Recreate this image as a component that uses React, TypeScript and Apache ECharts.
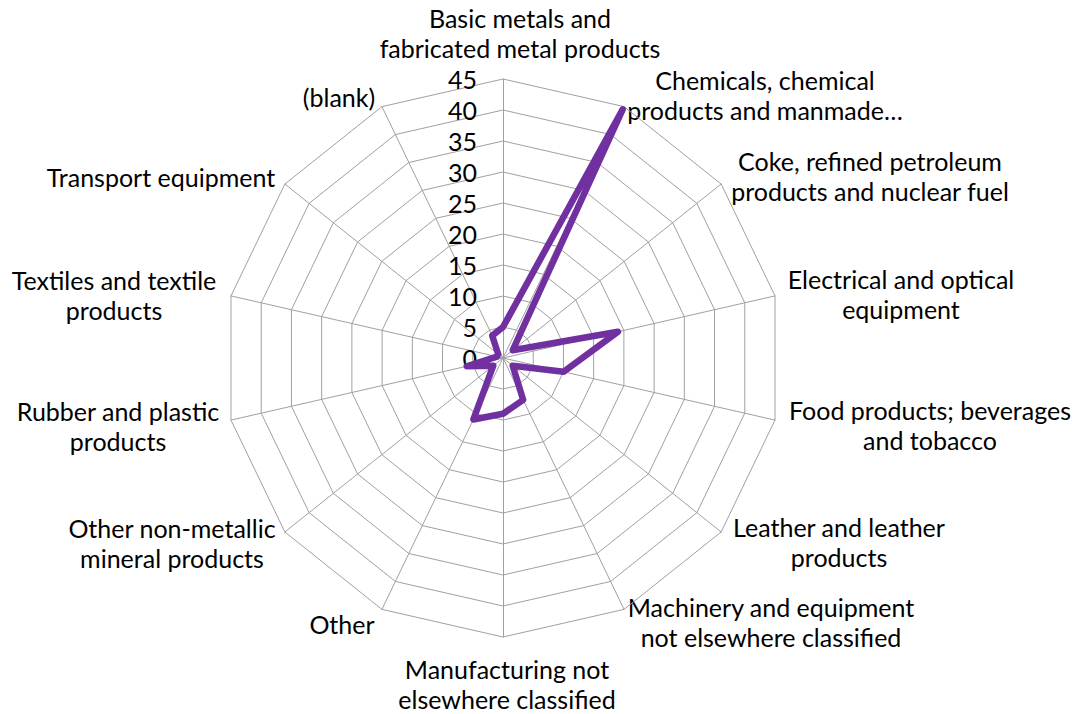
import React, { useEffect, useRef } from "react";
import * as echarts from "echarts";

// Categories in clockwise order starting at the top
const categories: string[] = [
  "Basic metals and\nfabricated metal products",
  "Chemicals, chemical\nproducts and manmade…",
  "Coke, refined petroleum\nproducts and nuclear fuel",
  "Electrical and optical\nequipment",
  "Food products; beverages\nand tobacco",
  "Leather and leather\nproducts",
  "Machinery and equipment\nnot elsewhere classified",
  "Manufacturing not\nelsewhere classified",
  "Other",
  "Other non-metallic\nmineral products",
  "Rubber and plastic\nproducts",
  "Textiles and textile\nproducts",
  "Transport equipment",
  "(blank)",
];

const values: number[] = [5, 44.5, 2, 19, 10, 2, 7.5, 9, 11, 2, 6, 1, 1, 4];

const axisMin = 0;
const axisMax = 45;
const axisStep = 5;

// label block centres (layout only)
const labelLayout: [number, number][] = [
  [520, 33],
  [765, 95],
  [870, 176],
  [901, 294],
  [930, 425],
  [839, 542],
  [771, 622],
  [507, 684],
  [342, 624],
  [172, 543],
  [118, 426],
  [114, 295],
  [161, 177],
  [339, 97],
];

const CX = 503;
const CY = 358;
const R = 279;
const FONT = "Lato, 'Open Sans', sans-serif";
const FS = 25;

export default function App() {
  const ref = useRef<HTMLDivElement>(null);
  useEffect(() => {
    if (!ref.current) return;
    const chart = echarts.init(ref.current, null, { renderer: "svg" });
    // ECharts radar runs counter-clockwise: keep the first, reverse the rest
    const order = [0, ...categories.map((_, i) => i).slice(1).reverse()];
    const indicator = order.map((i) => ({
      name: categories[i],
      min: axisMin,
      max: axisMax,
    }));
    const data = order.map((i) => values[i]);

    chart.setOption({
      animation: false,
      backgroundColor: "#ffffff",
      radar: {
        center: [CX, CY],
        radius: R,
        startAngle: 90,
        splitNumber: (axisMax - axisMin) / axisStep,
        shape: "polygon",
        indicator,
        axisName: { show: false },
        axisLine: { lineStyle: { color: "#a0a0a0", width: 1 } },
        splitLine: { lineStyle: { color: "#a0a0a0", width: 1 } },
        splitArea: { show: false },
        axisTick: { show: false },
        axisLabel: { show: false },
      },
      grid: {
        left: CX,
        top: CY - R,
        width: 10,
        height: R,
        containLabel: false,
      },
      xAxis: { type: "value", show: false, min: 0, max: 1 },
      yAxis: {
        type: "value",
        min: axisMin,
        max: axisMax,
        interval: axisStep,
        axisLine: { show: false },
        axisTick: { show: false },
        splitLine: { show: false },
        axisLabel: {
          margin: 26,
          color: "#000",
          fontSize: FS,
          fontFamily: FONT,
        },
      },
      graphic: categories.map((name, i) => ({
        type: "text",
        x: labelLayout[i][0],
        y: labelLayout[i][1],
        silent: true,
        style: {
          text: name,
          textAlign: "center",
          textVerticalAlign: "middle",
          fontSize: FS,
          fontFamily: FONT,
          lineHeight: 30,
          fill: "#000",
        },
      })),
      series: [
        {
          type: "radar",
          symbol: "none",
          lineStyle: {
            color: "#7030A0",
            width: 6.5,
            cap: "round",
            join: "round",
          },
          data: [{ value: data, name: "Total" }],
        },
      ],
    });
    return () => chart.dispose();
  }, []);
  return (
    <div
      ref={ref}
      style={{ position: "fixed", left: 0, top: 0, width: 1080, height: 714 }}
    />
  );
}
